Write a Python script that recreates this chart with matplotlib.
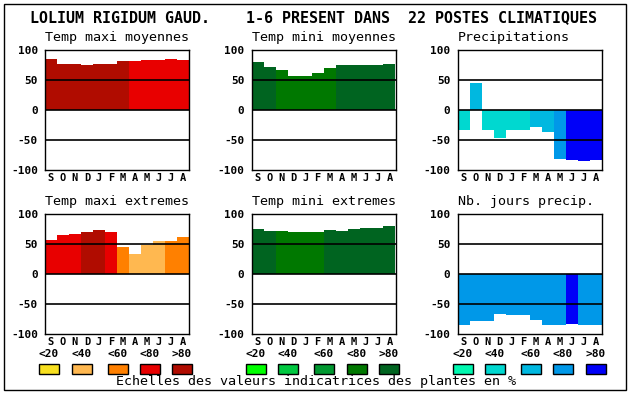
import matplotlib
matplotlib.use('Agg')
import matplotlib.pyplot as plt
from matplotlib.patches import Rectangle

# data
months = ['S', 'O', 'N', 'D', 'J', 'F', 'M', 'A', 'M', 'J', 'J', 'A']
class_labels = ['<20', '<40', '<60', '<80', '>80']

warm = ['#f8e020', '#ffb850', '#ff8000', '#e80000', '#b00c00']
greens = ['#00ff00', '#00c840', '#009830', '#007800', '#006420']
blues = ['#00f8b0', '#00d8d0', '#00b8e0', '#0098e8', '#0000f8']

tmax_moy = [85, 77, 77, 75, 77, 77, 82, 82, 83, 83, 85, 83]
tmax_moy_cls = [4, 4, 4, 4, 4, 4, 4, 3, 3, 3, 3, 3]

tmin_moy = [80, 72, 67, 57, 57, 62, 70, 75, 75, 75, 75, 77]
tmin_moy_cls = [4, 4, 3, 3, 3, 3, 3, 4, 4, 4, 4, 4]

precip = [-33, 45, -33, -47, -33, -33, -28, -37, -82, -83, -85, -83]
precip_cls = [1, 2, 1, 1, 1, 1, 2, 2, 3, 4, 4, 4]

tmax_ext = [57, 65, 67, 70, 73, 70, 45, 33, 48, 55, 55, 62]
tmax_ext_cls = [3, 3, 3, 4, 4, 3, 2, 1, 1, 1, 2, 2]

tmin_ext = [75, 72, 72, 70, 70, 70, 73, 72, 75, 77, 77, 80]
tmin_ext_cls = [4, 4, 3, 3, 3, 3, 4, 4, 4, 4, 4, 4]

nbj = [-85, -78, -78, -67, -68, -68, -77, -85, -85, -83, -85, -85]
nbj_cls = [3, 3, 3, 3, 3, 3, 3, 3, 3, 4, 3, 3]

title = 'LOLIUM RIGIDUM GAUD.    1-6 PRESENT DANS  22 POSTES CLIMATIQUES'
footer = 'Echelles des valeurs indicatrices des plantes en %'

W, H = 630, 394
mono = 'DejaVu Sans Mono'

fig = plt.figure(figsize=(W / 100, H / 100), dpi=100)


def px_axes(x0, top, w, h):
    return fig.add_axes([x0 / W, (H - top - h) / H, w / W, h / H])


panels = [
    ('Temp maxi moyennes', tmax_moy, tmax_moy_cls, warm, 45, 50),
    ('Temp mini moyennes', tmin_moy, tmin_moy_cls, greens, 251.5, 50),
    ('Precipitations', precip, precip_cls, blues, 457.5, 50),
    ('Temp maxi extremes', tmax_ext, tmax_ext_cls, warm, 45, 214),
    ('Temp mini extremes', tmin_ext, tmin_ext_cls, greens, 251.5, 214),
    ('Nb. jours precip.', nbj, nbj_cls, blues, 457.5, 214),
]

for name, vals, cls, pal, x0, top in panels:
    ax = px_axes(x0, top, 144, 120)
    ax.bar(range(12), vals, width=1.0, color=[pal[c] for c in cls], zorder=2)
    for yy in (-50, 0, 50):
        ax.axhline(yy, color='black', lw=1.2, zorder=3)
    ax.set_xlim(-0.5, 11.5)
    ax.set_ylim(-100, 100)
    ax.set_yticks([-100, -50, 0, 50, 100])
    ax.set_yticklabels(['-100', '-50', '0', '50', '100'], family=mono,
                       fontweight='bold', fontsize=8)
    ax.set_xticks(range(12))
    ax.set_xticklabels(months, family=mono, fontweight='bold', fontsize=7.5)
    ax.tick_params(axis='y', length=0, pad=5)
    ax.tick_params(axis='x', length=0, pad=2)
    for s in ax.spines.values():
        s.set_linewidth(1.0)
    fig.text(x0 / W, 1 - (top - 12) / H, name, family=mono, fontsize=9.6,
             ha='left', va='center')

fig.text(30 / W, 1 - 18 / H, title, family=mono, fontsize=10.8,
         fontweight='bold', ha='left', va='center')

swatch_x = [
    [39, 72, 108, 140, 172],
    [246, 278, 314, 347, 379],
    [453, 485, 521, 553, 586],
]
for xs, pal in zip(swatch_x, [warm, greens, blues]):
    for x, c, lab in zip(xs, pal, class_labels):
        fig.add_artist(Rectangle((x / W, (H - 374) / H), 20 / W, 10 / H,
                                 transform=fig.transFigure, facecolor=c,
                                 edgecolor='black', lw=1))
        fig.text((x + 10) / W, 1 - 354 / H, lab, family=mono, fontsize=8,
                 fontweight='bold', ha='center', va='center')

fig.text(316 / W, 1 - 382 / H, footer, family=mono, fontsize=9.6,
         ha='center', va='center')

fig.add_artist(Rectangle((4 / W, 4 / H), 622 / W, 386 / H, fill=False,
                         edgecolor='black', lw=1, transform=fig.transFigure))

fig.savefig('out.png', dpi=100)
